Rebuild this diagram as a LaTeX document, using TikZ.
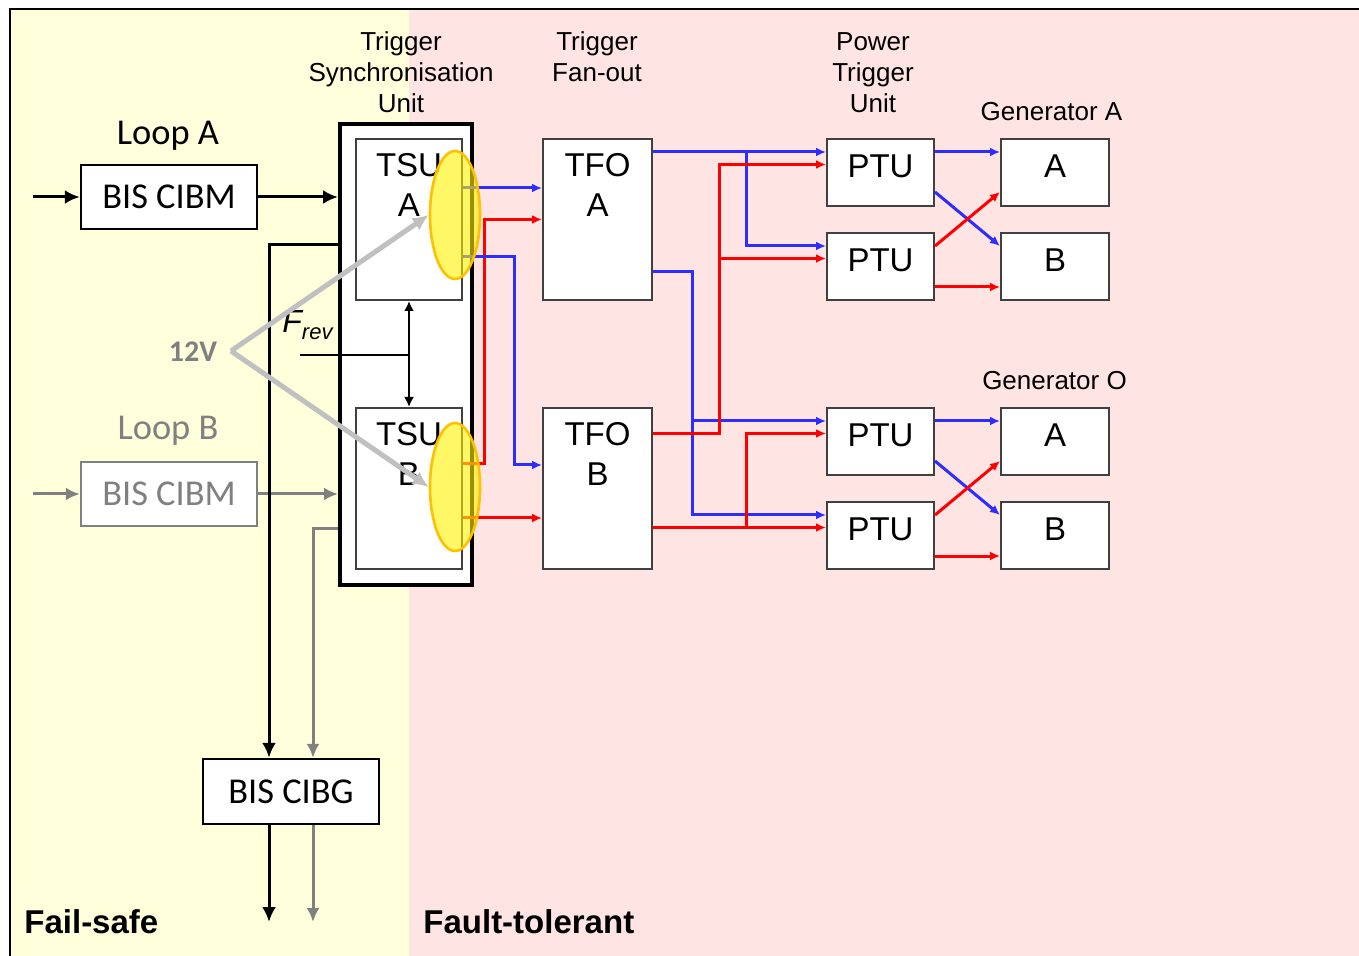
\documentclass[tikz,border=0pt]{standalone}
\usepackage{fontspec}
\setmainfont{Liberation Sans}
\newfontfamily\calibri{Carlito}
\usetikzlibrary{arrows.meta,shapes.geometric,calc}

\definecolor{failbg}{RGB}{255,255,220}
\definecolor{faultbg}{RGB}{255,228,228}
\definecolor{sigblue}{RGB}{45,45,255}
\definecolor{sigred}{RGB}{255,0,0}
\definecolor{boxline}{RGB}{64,64,64}
\definecolor{loopgray}{RGB}{128,128,128}
\definecolor{voltgray}{RGB}{192,192,192}
\definecolor{ellline}{RGB}{255,192,0}

\begin{document}
\begin{tikzpicture}[x=0.5pt,y=-0.5pt,
  unitbox/.style={draw=boxline,fill=white,line width=1pt,inner sep=0pt,
    minimum width=53.5pt,minimum height=33.5pt,text height=12pt,text depth=7pt,
    font=\fontsize{16.5}{20}\selectfont},
  unittxt/.style={anchor=north,inner sep=0pt,align=center,
    font=\fontsize{16.5}{20}\selectfont},
  cibm/.style={draw=black,fill=white,line width=1.2pt,inner sep=0pt,
    minimum width=88pt,minimum height=32pt,font=\calibri\fontsize{18.2}{20}\selectfont},
  headtxt/.style={inner sep=0pt,align=center,font=\fontsize{13}{15.5}\selectfont},
  looptxt/.style={anchor=base,inner sep=0pt,font=\calibri\fontsize{18.2}{20}\selectfont},
  zonetxt/.style={anchor=base west,inner sep=0pt,font=\bfseries\fontsize{16.5}{20}\selectfont},
  wireblk/.style={draw=black,line width=1.5pt,>={Latex[length=7.5pt,width=7pt]}},
  wiregr/.style={draw=loopgray,line width=1.5pt,>={Latex[length=7pt,width=6.5pt]}},
  wirethin/.style={draw=black,line width=1.1pt,>={Latex[length=5pt,width=5pt]}},
  sigbl/.style={draw=sigblue,line width=1.5pt,>={Latex[length=5pt,width=4.5pt]}},
  sigrd/.style={draw=sigred,line width=1.5pt,>={Latex[length=5pt,width=4.5pt]}},
  voltln/.style={draw=voltgray,line width=2.5pt,>={Latex[length=8pt,width=7.5pt]}},
  lens/.style={ellipse,draw=ellline,line width=1.3pt,fill=yellow,fill opacity=0.6,
    draw opacity=1,inner sep=0pt,minimum width=25pt,minimum height=64pt}
]
\useasboundingbox (0,0) rectangle (1359,956);

% the two zones
\fill[failbg] (10,9) rectangle (409,956);
\fill[faultbg] (409,9) rectangle (1359,956);
\draw[line width=1.25pt] (10,956) -- (10,9) -- (1359,9);

\node[headtxt] (htsu) at (401,72.5) {Trigger\\Synchronisation\\Unit};
\node[headtxt] (htfo) at (597,57) {Trigger\\Fan-out};
\node[headtxt] (hptu) at (873,72.5) {Power\\Trigger\\Unit};
\node[headtxt,anchor=base] (hgenA) at (1051.5,121) {Generator A};
\node[headtxt,anchor=base] (hgenO) at (1054.5,390) {Generator O};

% interlock side
\node[looptxt] (loopA) at (168,145) {Loop A};
\node[looptxt,text=loopgray] (loopB) at (168,440) {Loop B};
\node[cibm] (cibmA) at (169,197) {BIS CIBM};
\node[cibm,draw=loopgray,text=loopgray] (cibmB) at (169,494) {BIS CIBM};
\node[cibm,minimum height=32.5pt] (cibg) at (291,791.5) {BIS CIBG};

\node[draw=black,fill=white,line width=2pt,minimum width=66pt,minimum height=230.5pt] (tsu) at (406,354.5) {};

\foreach \u/\y in {A/219.5,B/488.5} {
  \node[unitbox,minimum width=53pt,minimum height=80.5pt] (tsu\u) at (409,\y) {};
  \node[unittxt] (tsu\u txt) at (409,\y-66.5) {TSU\\\u};
  \node[unitbox,minimum width=54.5pt,minimum height=80.5pt] (tfo\u) at (597.5,\y) {};
  \node[unittxt] (tfo\u txt) at (597.5,\y-66.5) {TFO\\\u};
}

\foreach \i/\y in {1/172.5,2/266.5,3/441.5,4/535.5} {
  \node[unitbox] (ptu\i) at (880.5,\y) {PTU};
}
\node[unitbox,minimum width=54pt] (genA1) at (1055,172.5) {A};
\node[unitbox,minimum width=54pt] (genB1) at (1055,266.5) {B};
\node[unitbox,minimum width=54pt] (genA2) at (1055,441.5) {A};
\node[unitbox,minimum width=54pt] (genB2) at (1055,535.5) {B};

% loop connections
\coordinate (inA) at (33,197);
\coordinate (inB) at (33,494);
\draw[wireblk,->] (inA) -- (cibmA.west);
\draw[wireblk,->] (cibmA.east) -- (cibmA.east -| tsu.west);
\draw[wiregr,->] (inB) -- (cibmB.west);
\draw[wiregr,->] (cibmB.east) -- (cibmB.east -| tsu.west);
\draw[wireblk,->] ($(tsu.west)+(0,-109.5)$) -| ($(cibg.north)+(-22,0)$);
\draw[wiregr,->] ($(tsu.west)+(0,174.5)$) -| ($(cibg.north)+(22,0)$);
\coordinate (outK) at (269,922);
\coordinate (outG) at (313,922);
\draw[wireblk,->] (outK |- cibg.south) -- (outK);
\draw[wiregr,->] (outG |- cibg.south) -- (outG);

% revolution frequency
\node[anchor=base west,inner sep=0pt,font=\fontsize{16}{18}\selectfont] (frev) at (282,333)
  {\itshape F\raisebox{-3.5pt}{\fontsize{11}{11}\selectfont rev}};
\coordinate (frev0) at (300,355);
\draw[wirethin] (frev0) -- (frev0 -| tsuA.south);
\draw[wirethin,<->] (tsuA.south) -- (tsuB.north);

% TSU -> TFO
\draw[sigbl,->] ($(tsuA.east)+(0,-31.5)$) -- ($(tfoA.west)+(0,-31.5)$);
\draw[sigrd,->] ($(tsuB.east)+(0,-24.5)$) -- ++(21,0) |- (tfoA.west);
\draw[sigbl,->] ($(tsuA.east)+(0,37.5)$) -- ++(51,0) |- ($(tfoB.west)+(0,-23.5)$);
\draw[sigrd,->] ($(tsuB.east)+(0,29.5)$) -- ($(tfoB.west)+(0,29.5)$);

% TFO -> PTU
\draw[sigbl,->] ($(tfoA.east)+(0,-67.5)$) -- ($(ptu1.west)+(0,-20.5)$);
\draw[sigbl,->] ($(tfoA.east)+(93,-67.5)$) |- ($(ptu2.west)+(0,-20.5)$);
\draw[sigbl,->] ($(tfoA.east)+(0,52.5)$) -- ++(39,0) |- ($(ptu4.west)+(0,-20.5)$);
\draw[sigbl,->] ($(tfoA.east)+(39,52.5)$) |- ($(ptu3.west)+(0,-20.5)$);
\draw[sigrd,->] ($(tfoB.east)+(0,-55)$) -- ++(66,0) |- ($(ptu1.west)+(0,-8)$);
\draw[sigrd,->] ($(tfoB.east)+(66,-55)$) |- ($(ptu2.west)+(0,-8)$);
\draw[sigrd,->] ($(tfoB.east)+(0,39)$) -- ($(ptu4.west)+(0,-8)$);
\draw[sigrd,->] ($(tfoB.east)+(93,39)$) |- ($(ptu3.west)+(0,-8)$);

% PTU -> generators
\foreach \p/\q/\g/\h in {ptu1/ptu2/genA1/genB1,ptu3/ptu4/genA2/genB2} {
  \draw[sigbl,->] ($(\p.east)+(0,-20.5)$) -- ($(\g.west)+(0,-20.5)$);
  \draw[sigbl,->] ($(\p.east)+(0,19.5)$) -- ($(\h.west)+(0,-20.5)$);
  \draw[sigrd,->] ($(\q.east)+(0,-20.5)$) -- ($(\g.west)+(0,19.5)$);
  \draw[sigrd,->] ($(\q.east)+(0,20.5)$) -- ($(\h.west)+(0,20.5)$);
}

\node[lens] (ellA) at (455,215) {};
\node[lens] (ellB) at (455,487) {};

% 12 V supply
\node[anchor=base,inner sep=0pt,text=loopgray,font=\calibri\bfseries\fontsize{15}{18}\selectfont] (v12) at (193,362) {12V};
\coordinate (v12tip) at (231,351);
\draw[voltln,->] (v12tip) -- (ellA.west);
\draw[voltln,->] (v12tip) -- (ellB.west);

\node[zonetxt] (fsafe) at (24,933) {Fail-safe};
\node[zonetxt] (ftol) at (423,933) {Fault-tolerant};

\end{tikzpicture}
\end{document}
